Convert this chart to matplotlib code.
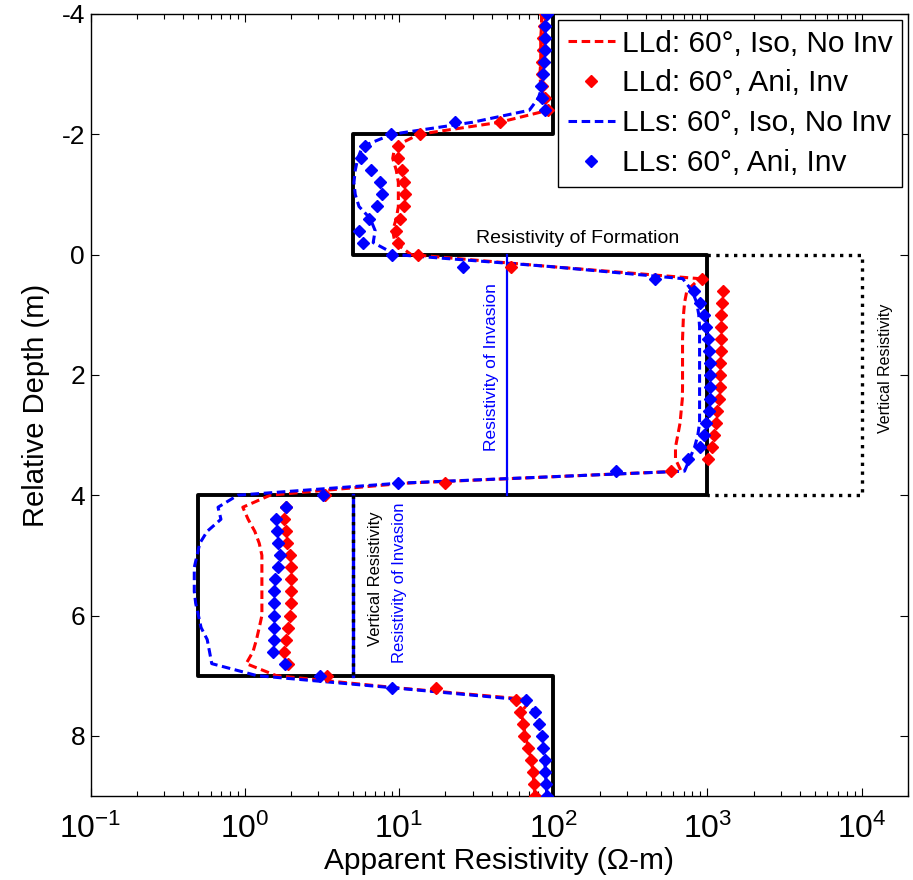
import numpy as np
import matplotlib
matplotlib.use("Agg")
import matplotlib.pyplot as plt

plt.rcParams['font.family'] = ['Liberation Sans', 'DejaVu Sans']
plt.rcParams['mathtext.default'] = 'regular'
plt.rcParams['axes.unicode_minus'] = False

# sampling depths (m), every 0.2 m
depth = np.round(np.arange(-4.0, 9.01, 0.2), 1)

# LLd, isotropic, no invasion (red dashed)
lld_iso = [84, 84, 83, 83, 83, 82, 83, 88, 93, 45,
           13.5, 9.4, 9.1, 9.6, 9.9, 9.9, 9.9, 9.6, 9.1, 9.4,
           12, 97, 890, 736, 711, 700, 695, 690, 690, 690,
           690, 690, 688, 676, 665, 643, 621, 621, 676, 11,
           1.46, 0.97, 1.05, 1.16, 1.24, 1.29, 1.29, 1.29, 1.29, 1.29,
           1.29, 1.24, 1.19, 1.13, 1.02, 1.6, 9.5, 72, 62, 64,
           66, 69, 72, 74, 75, 76]
# LLd, anisotropic, invasion (red diamonds)
lld_ani = [88, 87, 86, 86, 85, 85, 84, 88, 93, 45,
           13.6, 9.9, 9.9, 10.4, 10.7, 10.9, 10.7, 10.1, 9.6, 9.9,
           13.3, 53.5, 925, 1259, 1247, 1234, 1234, 1227, 1227, 1216,
           1216, 1210, 1197, 1150, 1140, 1100, 1067, 1007, 582, 19.8,
           3.3, 1.86, 1.79, 1.84, 1.88, 1.96, 1.99, 1.99, 1.99, 1.99,
           1.96, 1.91, 1.86, 1.79, 1.91, 3.4, 17.3, 57, 60.5, 64,
           65, 69, 72, 74, 75, 76]
# LLs, isotropic, no invasion (blue dashed)
lls_iso = [90, 89, 88, 88, 87, 86, 85, 80, 70, 30,
           9, 5.8, 5.4, 5.2, 5.1, 5.2, 5.5, 6.5, 7.0, 6.8,
           9.5, 97, 692, 795, 853, 879, 890, 890, 890, 890,
           890, 890, 890, 890, 890, 867, 826, 766, 711, 10,
           0.9, 0.67, 0.70, 0.57, 0.51, 0.49, 0.47, 0.47, 0.47, 0.48,
           0.50, 0.52, 0.57, 0.59, 0.61, 1.2, 9.0, 62, 76, 81,
           84, 86, 88, 89, 90, 91]
# LLs, anisotropic, invasion (blue diamonds)
lls_ani = [91, 89, 88, 88, 87, 86, 83, 84, 88, 23,
           8.9, 6.0, 5.7, 6.6, 7.5, 7.8, 7.2, 6.4, 5.5, 5.8,
           9.0, 26, 454, 817, 902, 957, 982, 1016, 1030, 1035,
           1040, 1040, 1035, 1020, 982, 957, 902, 746, 256, 9.8,
           3.2, 1.86, 1.59, 1.62, 1.64, 1.69, 1.64, 1.58, 1.55, 1.54,
           1.54, 1.54, 1.54, 1.53, 1.82, 3.06, 9.0, 67, 76, 81,
           84, 86, 88, 89, 90, 91]

# earth model
layer_top = [-4, -2, 0, 4, 7]
layer_bot = [-2, 0, 4, 7, 9]
r_formation = [100, 5, 1000, 0.5, 100]
r_vertical = [None, None, 10000, 5, None]
r_invasion = [None, None, 50, 5, None]

fig = plt.figure(figsize=(9.13, 8.8), dpi=100)
ax = fig.add_axes([0.0993, 0.0955, 0.8952, 0.8886])

# formation resistivity as a blocky profile
step_x = np.repeat(r_formation, 2)
step_y = np.column_stack([layer_top, layer_bot]).ravel()
ax.plot(step_x, step_y, color='k', lw=2.8, zorder=2)

# vertical resistivity box of the thick layer
i = 2
ax.plot([r_formation[i], r_vertical[i], r_vertical[i], r_formation[i]],
        [layer_top[i], layer_top[i], layer_bot[i], layer_bot[i]],
        color='k', ls=':', lw=2.4, zorder=2)
ax.plot([r_invasion[i], r_invasion[i]], [layer_top[i], layer_bot[i]],
        color='b', lw=1.6, zorder=2)

# conductive layer: invasion and vertical resistivity coincide
i = 3
ax.plot([r_invasion[i], r_invasion[i]], [layer_top[i], layer_bot[i]],
        color='b', lw=2.4, zorder=2)
ax.plot([r_vertical[i], r_vertical[i]], [layer_top[i], layer_bot[i]],
        color='k', ls=':', lw=2.4, zorder=2)

# logs
ax.plot(lld_iso, depth, color='r', ls='--', dashes=(2.8, 1.5), lw=2.2,
        label='LLd: 60°, Iso, No Inv', zorder=3)
ax.plot(lld_ani, depth, color='r', ls='none', marker='D', ms=6.3,
        label='LLd: 60°, Ani, Inv', zorder=4)
ax.plot(lls_iso, depth, color='b', ls='--', dashes=(2.8, 1.5), lw=2.2,
        label='LLs: 60°, Iso, No Inv', zorder=3)
ax.plot(lls_ani, depth, color='b', ls='none', marker='D', ms=6.3,
        label='LLs: 60°, Ani, Inv', zorder=4)

ax.text(144, -0.12, 'Resistivity of Formation', fontsize=14, ha='center', va='bottom')
ax.text(40, 1.87, 'Resistivity of Invasion', fontsize=12.5, color='b',
        rotation=90, ha='center', va='center')
ax.text(14250, 1.89, 'Vertical Resistivity', fontsize=11.5,
        rotation=90, ha='center', va='center')
ax.text(7.0, 5.38, 'Vertical Resistivity', fontsize=12,
        rotation=90, ha='center', va='center')
ax.text(10.1, 5.45, 'Resistivity of Invasion', fontsize=12, color='b',
        rotation=90, ha='center', va='center')

ax.set_xscale('log')
ax.set_xlim(0.1, 2e4)
ax.set_ylim(9, -4)
ax.set_yticks([-4, -2, 0, 2, 4, 6, 8])
ax.set_xticks([0.1, 1, 10, 100, 1000, 10000])
ax.tick_params(which='both', direction='in', top=True, right=True)
ax.tick_params(which='major', length=6, width=0.8)
ax.tick_params(which='minor', length=3.5, width=0.8)
ax.tick_params(axis='x', which='major', labelsize=23, pad=13)
ax.tick_params(axis='y', which='major', labelsize=19, pad=4)
for sp in ax.spines.values():
    sp.set_linewidth(1.0)

ax.set_xlabel('Apparent Resistivity (Ω-m)', fontsize=21.5, labelpad=1)
ax.set_ylabel('Relative Depth (m)', fontsize=21, labelpad=8)

leg = ax.legend(loc='upper right', fontsize=21.5, numpoints=1, handlelength=1.57,
                handletextpad=0.23, borderpad=0.32, labelspacing=0.4,
                borderaxespad=0.2, fancybox=False, framealpha=1)
leg.get_frame().set_edgecolor('k')
leg.get_frame().set_linewidth(1.0)

fig.savefig('out.png', dpi=100)
